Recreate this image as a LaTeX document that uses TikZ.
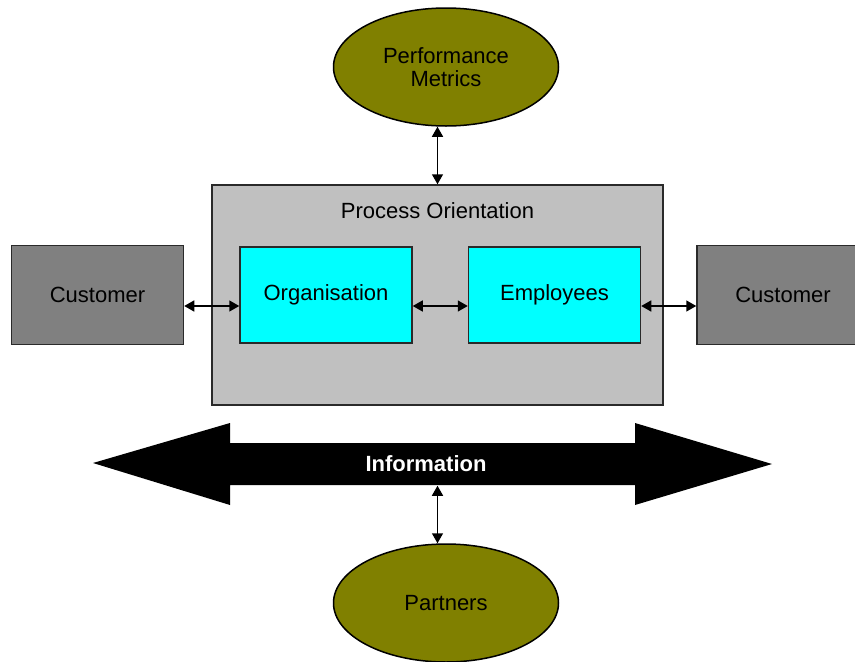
\documentclass[tikz,border=0pt]{standalone}
\usepackage{fontspec}
\setmainfont{Liberation Sans}
\usepackage{tikz}
\usetikzlibrary{shapes}
\usetikzlibrary{arrows.meta}
\usetikzlibrary{positioning}
\definecolor{olivefill}{HTML}{808000}
\definecolor{boxgray}{HTML}{C0C0C0}
\definecolor{custgray}{HTML}{808080}
\definecolor{unitcyan}{HTML}{00FFFF}
\definecolor{rimgray}{HTML}{2A2A2A}
\tikzstyle{arrow}=[{Triangle[length=10pt,width=11pt]}-{Triangle[length=10pt,width=11pt]},line width=1.5]
\tikzstyle{goal}=[ellipse,draw=black,fill=olivefill,minimum width=225,minimum height=118,inner sep=0,align=center]
\tikzstyle{unit}=[rectangle,draw=rimgray,fill=unitcyan,minimum width=172,minimum height=96,inner sep=0]
\tikzstyle{party}=[rectangle,draw=rimgray,fill=custgray,minimum width=172,minimum height=99,inner sep=0]
\tikzset{every picture/.style={
    line width=1.5
  },
  every node/.style={font=\fontsize{22}{25}\selectfont}
}

\begin{document}
\begin{tikzpicture}[x=1pt,y=-1pt]
            \useasboundingbox (0,0) rectangle (855,662);
            % process frame with its two parts
            \node[rectangle,draw=rimgray,fill=boxgray,minimum width=451,minimum height=220,inner sep=0] (process) at (437.5,295) {};
            \node[anchor=north] (ptitle) at ([yshift=-14pt]process.north) {Process Orientation};
            \node[unit] (org) at (326,295) {Organisation};
            \node[unit] (emp) [right=55pt of org] {Employees};
            \node[party] (custL) [left=55pt of org] {Customer};
            \node[party] (custR) [right=55pt of emp] {Customer};
            \draw[arrow] ([yshift=-11pt]custL.east) -- ([yshift=-11pt]org.west);
            \draw[arrow] ([yshift=-11pt]org.east) -- ([yshift=-11pt]emp.west);
            \draw[arrow] ([yshift=-11pt]emp.east) -- ([yshift=-11pt]custR.west);
            % goals above and below
            \node[goal] (metrics) at (446,67) {Performance\\[-2pt]Metrics};
            \node[goal] (partners) at (446,603) {Partners};
            \draw[arrow] (process.north |- metrics.south) -- (process.north);
            % information band
            \fill (93,463) -- (230,423) -- (230,443) -- (635,443) -- (635,423) -- (772,464)
              -- (635,505) -- (635,485) -- (230,485) -- (230,505) -- cycle;
            \node[text=white,font=\fontsize{22}{25}\selectfont\bfseries,minimum width=405,minimum height=42,inner sep=0] (info) at (426,464) {Information};
            \draw[arrow] (process.north |- info.south) -- (process.north |- partners.north);
          \end{tikzpicture}
\end{document}
